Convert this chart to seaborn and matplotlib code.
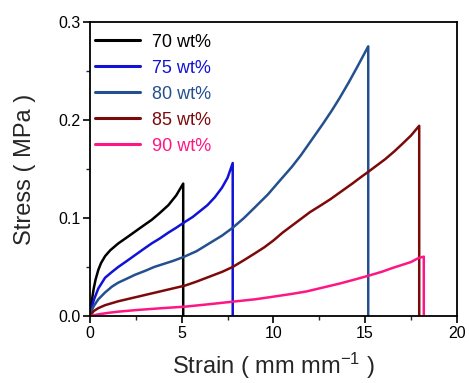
import matplotlib
matplotlib.use("Agg")
import matplotlib.pyplot as plt
from matplotlib.ticker import MultipleLocator, FormatStrFormatter
import numpy as np
import pandas as pd
import seaborn as sns

# Tensile curves: each series rises to its break point, then drops to zero
labels = ["70 wt%", "75 wt%", "80 wt%", "85 wt%", "90 wt%"]
colors = ["#000000", "#1212d6", "#24508f", "#7d0a0a", "#ff1685"]

strain_70 = [0, 0.1, 0.2, 0.3, 0.45, 0.6, 0.82, 1.1, 1.54, 2.0, 2.45, 2.9, 3.36,
             3.8, 4.27, 4.7, 5.08, 5.08]
stress_70 = [0, 0.016, 0.028, 0.037, 0.047, 0.054, 0.061, 0.067, 0.074, 0.080, 0.086,
             0.092, 0.098, 0.105, 0.113, 0.123, 0.135, 0]

strain_75 = [0, 0.1, 0.2, 0.45, 0.82, 1.2, 1.54, 2.0, 2.45, 2.9, 3.36, 3.8, 4.27,
             4.7, 5.18, 5.6, 6.0, 6.4, 6.8, 7.2, 7.5, 7.78, 7.78]
stress_75 = [0, 0.009, 0.016, 0.028, 0.039, 0.045, 0.050, 0.056, 0.062, 0.068, 0.074,
             0.079, 0.085, 0.090, 0.096, 0.101, 0.107, 0.113, 0.121, 0.131, 0.141, 0.156, 0]

strain_80 = [0, 0.1, 0.2, 0.45, 0.82, 1.2, 1.54, 2.0, 2.45, 3.0, 3.5, 4.0, 4.5, 5.08,
             5.8, 6.5, 7.2, 7.78, 8.4, 9.0, 9.7, 10.3, 11.0, 11.5, 12.1, 12.7, 13.2,
             13.6, 14.1, 14.6, 15.17, 15.17]
stress_80 = [0, 0.006, 0.010, 0.017, 0.024, 0.030, 0.034, 0.038, 0.042, 0.046, 0.050,
             0.053, 0.056, 0.060, 0.066, 0.074, 0.082, 0.090, 0.100, 0.111, 0.124, 0.137,
             0.152, 0.164, 0.180, 0.196, 0.210, 0.222, 0.238, 0.255, 0.275, 0]

strain_85 = [0, 0.2, 0.45, 0.82, 1.54, 2.45, 3.36, 4.27, 5.18, 5.8, 6.5, 7.2, 7.78,
             8.4, 9.0, 9.5, 10.0, 10.5, 11.0, 11.5, 12.0, 12.6, 13.1, 13.7, 14.3, 14.8,
             15.17, 15.6, 16.1, 16.6, 17.0, 17.5, 17.95, 17.95]
stress_85 = [0, 0.005, 0.008, 0.011, 0.015, 0.019, 0.023, 0.027, 0.031, 0.035, 0.040,
             0.045, 0.050, 0.057, 0.064, 0.070, 0.077, 0.085, 0.092, 0.099, 0.106, 0.113,
             0.119, 0.127, 0.135, 0.142, 0.147, 0.153, 0.160, 0.168, 0.175, 0.184, 0.194, 0]

strain_90 = [0, 0.5, 1.0, 1.54, 2.5, 3.36, 4.27, 5.18, 6.5, 7.78, 9.0, 10.0, 11.0,
             11.8, 12.7, 13.6, 14.4, 15.17, 15.9, 16.5, 17.0, 17.5, 17.9, 18.2, 18.2]
stress_90 = [0, 0.0018, 0.0032, 0.0044, 0.006, 0.0072, 0.0084, 0.0095, 0.012, 0.0146,
             0.017, 0.0197, 0.0225, 0.025, 0.029, 0.033, 0.037, 0.041, 0.045, 0.049,
             0.052, 0.055, 0.059, 0.0605, 0]

strains = [strain_70, strain_75, strain_80, strain_85, strain_90]
stresses = [stress_70, stress_75, stress_80, stress_85, stress_90]

frames = []
for lab, xs, ys in zip(labels, strains, stresses):
    frames.append(pd.DataFrame({"strain": xs, "stress": ys, "sample": lab}))
df = pd.concat(frames, ignore_index=True)

sns.set_style("ticks")
plt.rcParams["font.family"] = ["Liberation Sans", "DejaVu Sans"]
plt.rcParams["mathtext.fontset"] = "custom"
plt.rcParams["mathtext.rm"] = "Liberation Sans"
plt.rcParams["mathtext.it"] = "Liberation Sans"

fig = plt.figure(figsize=(4.69, 3.83), dpi=100)
ax = fig.add_axes([0.192, 0.175, 0.782, 0.768])

sns.lineplot(data=df, x="strain", y="stress", hue="sample", hue_order=labels,
             palette=dict(zip(labels, colors)), sort=False, estimator=None,
             units="sample", linewidth=1.8, ax=ax, legend=False)

ax.set_xlim(0, 20)
ax.set_ylim(0, 0.3)
ax.xaxis.set_major_locator(MultipleLocator(5))
ax.xaxis.set_minor_locator(MultipleLocator(2.5))
ax.yaxis.set_major_locator(MultipleLocator(0.1))
ax.yaxis.set_minor_locator(MultipleLocator(0.05))
ax.yaxis.set_major_formatter(FormatStrFormatter("%.1f"))

for side in ["left", "bottom", "top", "right"]:
    ax.spines[side].set_linewidth(1.3)
    ax.spines[side].set_color("black")
ax.tick_params(which="major", direction="out", length=5, width=1.2,
               labelsize=11.5, colors="black", pad=2, top=False, right=False)
ax.tick_params(which="minor", direction="out", length=3, width=1.0,
               top=False, right=False)

ax.set_xlabel("Strain ( mm mm$^{-1}$ )", fontsize=17, labelpad=7)
ax.set_ylabel("Stress ( MPa )", fontsize=17, labelpad=16)

handles = [plt.Line2D([], [], color=c, linewidth=2.2) for c in colors]
leg = ax.legend(handles, labels, loc="upper left", frameon=False, fontsize=13,
                handlelength=2.5, handletextpad=0.7, labelspacing=0.5,
                borderpad=0.1, borderaxespad=0.15, bbox_to_anchor=(0.0, 0.975))
for txt, c in zip(leg.get_texts(), colors):
    txt.set_color(c)

fig.savefig("out.png", dpi=100)
